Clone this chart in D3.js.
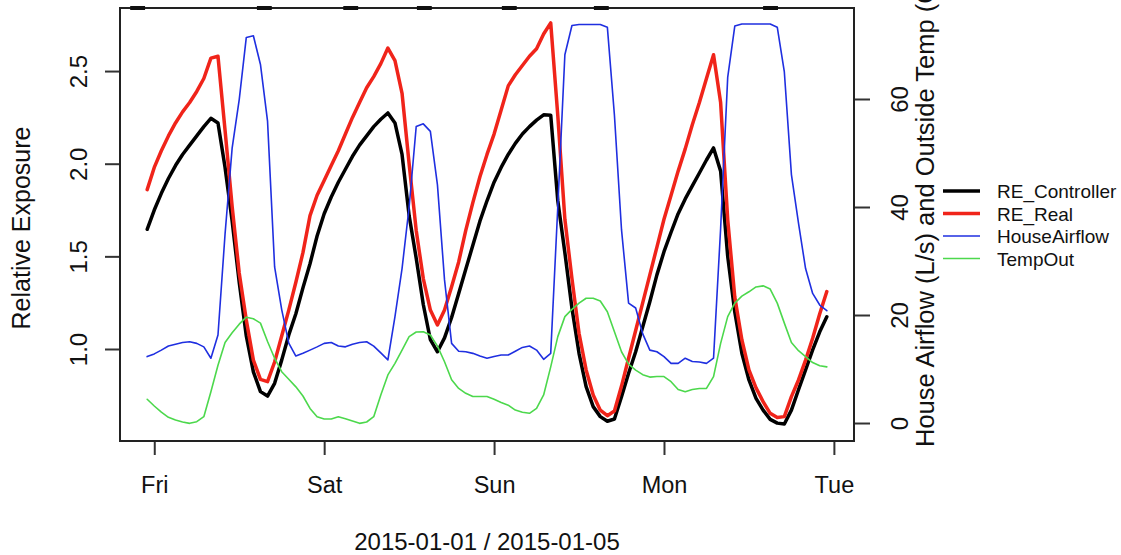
<!DOCTYPE html>
<html>
<head>
<meta charset="utf-8">
<script src="https://cdn.jsdelivr.net/npm/d3@7"></script>
<style>
  body { margin: 0; background: #fff; }
  text { font-family: "Liberation Sans", Arial, Helvetica, sans-serif; fill: #111; }
  .line { fill: none; stroke-linejoin: round; stroke-linecap: round; }
  .tick line { stroke: #333; stroke-width: 2; }
</style>
</head>
<body>
<div id="dataviz"></div>
<script>
// hourly readings, 2015-01-01 23:00 to 2015-01-05 23:00 (UTC)
const firstHour = "2015-01-01T23:00:00Z";
const dayTicks = ["2015-01-02", "2015-01-03", "2015-01-04", "2015-01-05", "2015-01-06"];
const seriesNames = ["RE_Controller", "RE_Real", "HouseAirflow", "TempOut"];

const reController = [
  1.646, 1.75, 1.84, 1.92, 1.99, 2.05, 2.10, 2.15, 2.20, 2.245,
  2.22, 1.98, 1.69, 1.36, 1.07, 0.877, 0.77, 0.746, 0.815, 0.94,
  1.076, 1.19, 1.33, 1.46, 1.61, 1.73, 1.82, 1.90, 1.97, 2.04,
  2.10, 2.15, 2.20, 2.24, 2.274, 2.22, 2.05, 1.72, 1.49, 1.24,
  1.05, 0.985, 1.06, 1.17, 1.30, 1.43, 1.56, 1.69, 1.80, 1.90,
  1.98, 2.05, 2.11, 2.16, 2.20, 2.235, 2.264, 2.262, 1.80, 1.52,
  1.22, 0.977, 0.797, 0.689, 0.635, 0.61, 0.622, 0.743, 0.869, 0.985,
  1.12, 1.255, 1.40, 1.525, 1.63, 1.73, 1.81, 1.88, 1.95, 2.02,
  2.085, 1.96, 1.50, 1.20, 0.977, 0.833, 0.734, 0.67, 0.62, 0.60,
  0.595, 0.67, 0.78, 0.887, 0.995, 1.093, 1.174
];

const reReal = [
  1.86, 1.98, 2.07, 2.15, 2.22, 2.28, 2.33, 2.39, 2.46, 2.57,
  2.58, 2.18, 1.77, 1.41, 1.156, 0.94, 0.836, 0.824, 0.93, 1.07,
  1.21, 1.36, 1.52, 1.72, 1.83, 1.91, 1.99, 2.07, 2.16, 2.25,
  2.33, 2.41, 2.47, 2.54, 2.624, 2.556, 2.38, 2.00, 1.64, 1.38,
  1.21, 1.13, 1.21, 1.336, 1.47, 1.64, 1.79, 1.93, 2.05, 2.16,
  2.29, 2.42, 2.48, 2.53, 2.58, 2.62, 2.70, 2.76, 2.26, 1.70,
  1.38, 1.085, 0.887, 0.752, 0.67, 0.64, 0.665, 0.80, 0.95, 1.10,
  1.25, 1.40, 1.55, 1.70, 1.83, 1.96, 2.08, 2.21, 2.33, 2.46,
  2.588, 2.33, 1.70, 1.28, 1.05, 0.887, 0.79, 0.716, 0.653, 0.63,
  0.635, 0.743, 0.833, 0.94, 1.058, 1.19, 1.31
];

const houseAirflow = [
  12.3, 12.8, 13.5, 14.25, 14.6, 14.9, 15.05, 14.75, 14.1, 12.0,
  16.3, 35, 50.9, 59.9, 71.4, 71.7, 66.4, 55.9, 28.9, 21,
  14.8, 12.4, 12.9, 13.5, 14.1, 14.75, 14.9, 14.25, 14.1, 14.6,
  14.9, 15.05, 14.25, 13.0, 11.7, 19.7, 28.6, 40, 54.9, 55.4,
  54, 44.1, 26.5, 14.75, 13.3, 13.2, 12.9, 12.4, 12.0, 12.3,
  12.6, 12.6, 13.3, 14.0, 14.25, 13.5, 11.8, 12.9, 40, 68.2,
  73.6, 73.8, 73.8, 73.8, 73.8, 73.3, 57, 35.8, 22.2, 21.3,
  16.5, 13.5, 13.2, 12.3, 11.05, 11.05, 12.0, 11.4, 11.3, 11.05,
  12.0, 36, 64, 73.5, 73.9, 73.9, 73.9, 73.9, 73.9, 73.3,
  65, 46, 37, 28.6, 24.0, 21.85, 20.8
];

const tempOut = [
  4.4, 3.15, 2.0, 1.05, 0.55, 0.19, -0.06, 0.25, 1.17, 5.8,
  10.7, 14.9, 16.7, 18.3, 19.6, 19.3, 18.5, 15.1, 12.0, 9.5,
  8.1, 6.7, 5.0, 2.7, 1.17, 0.74, 0.74, 1.17, 0.8, 0.37,
  -0.06, 0.19, 1.17, 5.2, 8.9, 11.05, 13.5, 16.0, 16.85, 16.9,
  16.3, 14.25, 11.35, 8.0, 6.4, 5.5, 4.9, 4.9, 4.9, 4.4,
  3.8, 3.3, 2.4, 2.0, 1.8, 2.7, 5.2, 10.4, 16.0, 19.7,
  21.05, 22.2, 23.1, 23.1, 22.6, 20.6, 16.9, 13.2, 10.9, 9.8,
  8.95, 8.5, 8.6, 8.6, 7.65, 6.2, 5.8, 6.2, 6.4, 6.4,
  8.6, 14.75, 19.7, 22.2, 23.5, 24.3, 25.2, 25.4, 24.8, 22.2,
  18.5, 14.9, 13.4, 12.3, 11.2, 10.6, 10.4
];

const leftTicks = [1.0, 1.5, 2.0, 2.5];
const rightTicks = [0, 20, 40, 60];
// short black dashes sitting on the top border (hours after first reading)
const topDashStarts = [-2.4, 15.5, 27.7, 38.1, 50.1, 63.1, 87.0];

function drawChart() {
    const width = 1121;
    const height = 555;
    const margin = ({top: 8, right: 267, bottom: 114, left: 120});
    const hourMs = 3600 * 1000;

    const t0 = new Date(firstHour).getTime();
    const times = reController.map((d, i) => new Date(t0 + i * hourMs));
    const span = times[times.length - 1] - times[0];

    const x = d3.scaleUtc()
        .domain([new Date(+times[0] - 0.04 * span), new Date(+times[times.length - 1] + 0.04 * span)])
        .range([margin.left, width - margin.right]);

    const yLeft = d3.scaleLinear()
        .domain([0.5035, 2.8403])
        .range([height - margin.bottom, margin.top]);

    const yRight = d3.scaleLinear()
        .domain([-3.33, 76.85])
        .range([height - margin.bottom, margin.top]);

    const svg = d3.select("#dataviz")
        .append("svg")
        .attr("width", width)
        .attr("height", height);

    const colours = {
        "RE_Controller": "#000000",
        "RE_Real": "#f0241a",
        "HouseAirflow": "#1f2fe0",
        "TempOut": "#4cd84c"
    };
    const widths = {"RE_Controller": 3.5, "RE_Real": 3.5, "HouseAirflow": 1.6, "TempOut": 1.6};

    const lineLeft = d3.line()
        .x((d, i) => x(times[i]))
        .y(d => yLeft(d));
    const lineRight = d3.line()
        .x((d, i) => x(times[i]))
        .y(d => yRight(d));

    const series = [
        [seriesNames[0], reController, lineLeft],
        [seriesNames[1], reReal, lineLeft],
        [seriesNames[2], houseAirflow, lineRight],
        [seriesNames[3], tempOut, lineRight]
    ];

    series.forEach(d => {
        svg.append("path")
            .attr("class", "line")
            .attr("stroke", colours[d[0]])
            .attr("stroke-width", widths[d[0]])
            .attr("d", d[2](d[1]));
    });

    // left axis, labels turned like R does
    const gl = svg.append("g")
        .attr("transform", `translate(${margin.left},0)`)
        .call(d3.axisLeft(yLeft).tickValues(leftTicks).tickFormat(d3.format(".1f")).tickSize(15));
    gl.select(".domain").remove();
    gl.selectAll(".tick text")
        .attr("transform", "rotate(-90)")
        .attr("x", 0).attr("y", -33).attr("dy", 0)
        .attr("text-anchor", "middle")
        .attr("font-size", "24px");

    const gr = svg.append("g")
        .attr("transform", `translate(${width - margin.right},0)`)
        .call(d3.axisRight(yRight).tickValues(rightTicks).tickSize(16));
    gr.select(".domain").remove();
    gr.selectAll(".tick text")
        .attr("transform", "rotate(-90)")
        .attr("x", 0).attr("y", 54).attr("dy", 0)
        .attr("text-anchor", "middle")
        .attr("font-size", "24px");

    const gb = svg.append("g")
        .attr("transform", `translate(0,${height - margin.bottom})`)
        .call(d3.axisBottom(x)
            .tickValues(dayTicks.map(d => new Date(d + "T00:00:00Z")))
            .tickFormat(d3.utcFormat("%a"))
            .tickSize(14));
    gb.select(".domain").remove();
    gb.selectAll(".tick text")
        .attr("y", 52).attr("dy", 0)
        .attr("font-size", "23.5px");

    svg.selectAll(".tick text").attr("fill", "#111").attr("font-family", null);

    // box
    svg.append("rect")
        .attr("x", margin.left)
        .attr("y", margin.top)
        .attr("width", width - margin.left - margin.right)
        .attr("height", height - margin.top - margin.bottom)
        .attr("fill", "none")
        .attr("stroke", "#222")
        .attr("stroke-width", 2);

    topDashStarts.forEach(h => {
        svg.append("line")
            .attr("x1", x(new Date(t0 + h * hourMs)))
            .attr("x2", x(new Date(t0 + (h + 2.1) * hourMs)))
            .attr("y1", margin.top)
            .attr("y2", margin.top)
            .attr("stroke", "#111")
            .attr("stroke-width", 4);
    });

    svg.append("text")
        .attr("transform", "translate(30,228) rotate(-90)")
        .attr("text-anchor", "middle")
        .attr("font-size", "25px")
        .text("Relative Exposure");

    svg.append("text")
        .attr("transform", "translate(934,447) rotate(-90)")
        .attr("text-anchor", "start")
        .attr("font-size", "25.5px")
        .text("House Airflow (L/s) and Outside Temp (C)");

    svg.append("text")
        .attr("x", (margin.left + width - margin.right) / 2)
        .attr("y", 550)
        .attr("text-anchor", "middle")
        .attr("font-size", "24px")
        .text("2015-01-01 / 2015-01-05");

    // legend
    seriesNames.forEach((name, i) => {
        const ly = 191 + i * 22.5;
        svg.append("line")
            .attr("x1", 943).attr("x2", 980)
            .attr("y1", ly).attr("y2", ly)
            .attr("stroke", colours[name])
            .attr("stroke-width", widths[name]);
        svg.append("text")
            .attr("x", 997)
            .attr("y", ly + 7)
            .attr("font-size", "19px")
            .text(name);
    });
}

drawChart();
</script>
</body>
</html>
